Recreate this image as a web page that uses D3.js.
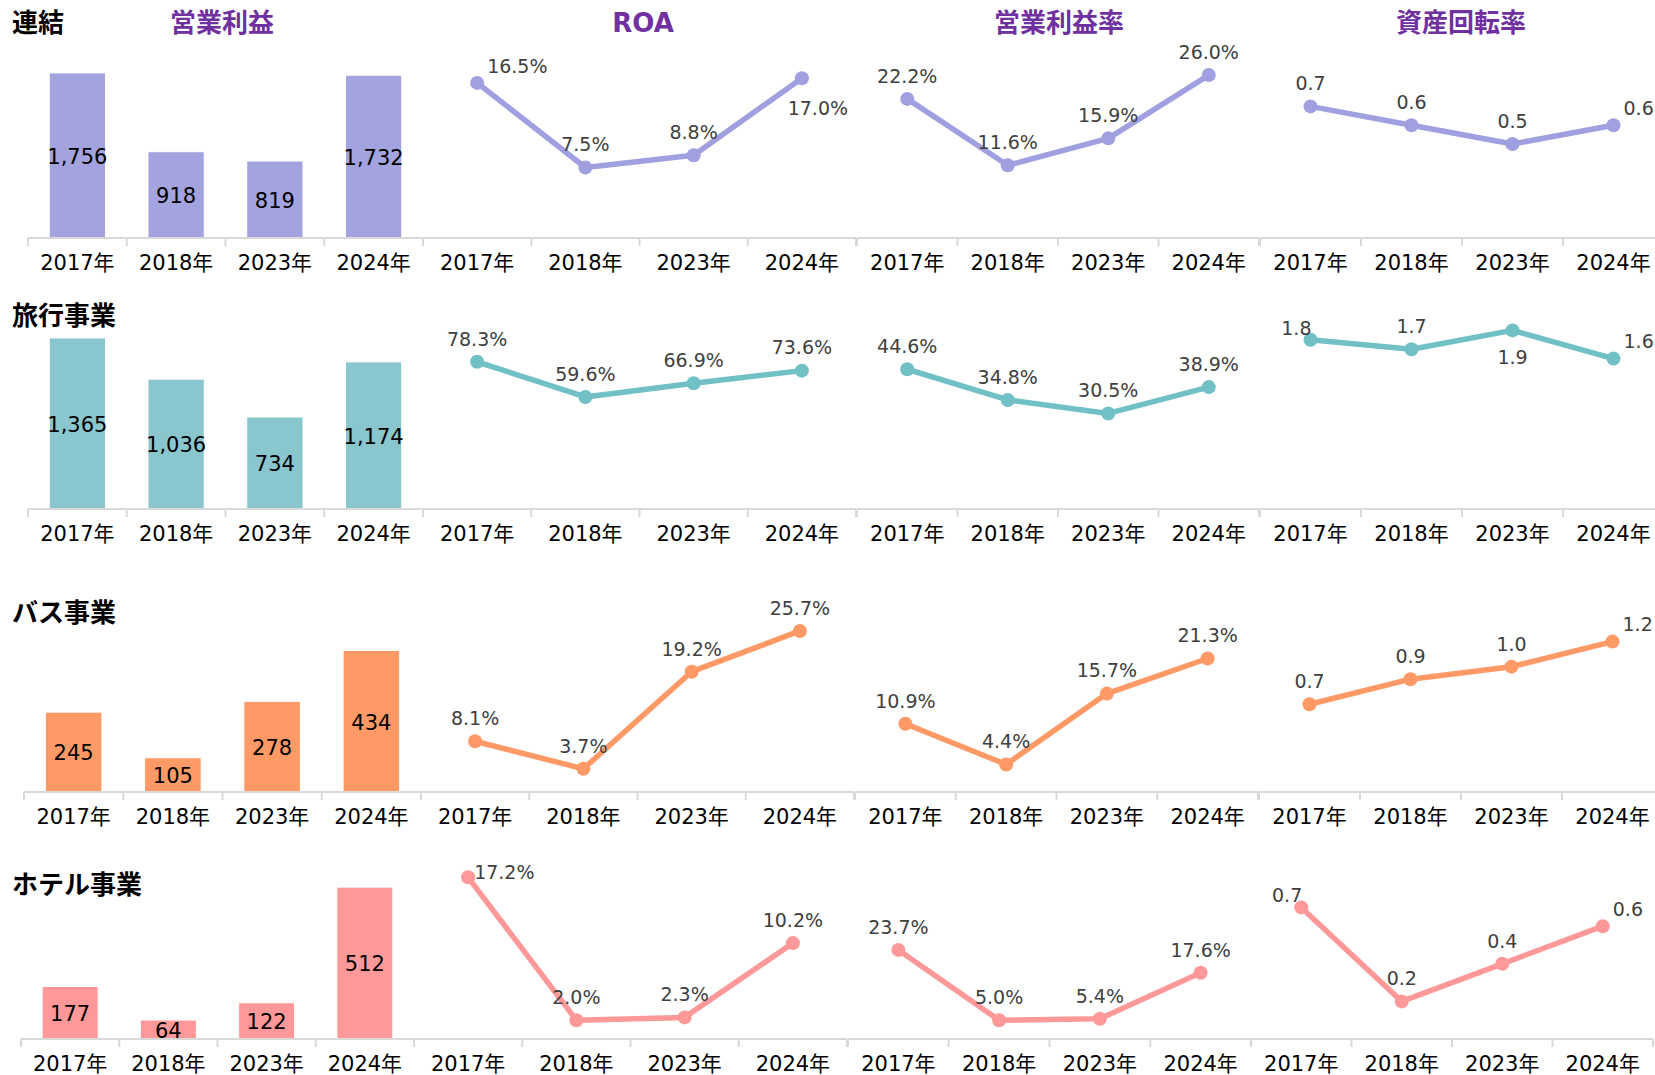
<!DOCTYPE html>
<html>
<head>
<meta charset="utf-8">
<script src="https://cdn.jsdelivr.net/npm/d3@7"></script>
<style>
  body { margin: 0; background: #fff; }
  svg { display: block; font-family: "DejaVu Sans", "Noto Sans CJK JP", sans-serif; }
</style>
</head>
<body>
<svg id="chart" width="1655" height="1075"></svg>
<script>
// categories
const years = ['2017年', '2018年', '2023年', '2024年'];
const segments = ['連結', '旅行事業', 'バス事業', 'ホテル事業'];
const metrics = ['営業利益', 'ROA', '営業利益率', '資産回転率'];

// values, one row per segment
const opProfit = [
  [1756, 918, 819, 1732],
  [1365, 1036, 734, 1174],
  [245, 105, 278, 434],
  [177, 64, 122, 512]
];
const roa = [
  [16.5, 7.5, 8.8, 17.0],
  [78.3, 59.6, 66.9, 73.6],
  [8.1, 3.7, 19.2, 25.7],
  [17.2, 2.0, 2.3, 10.2]
];
const opMargin = [
  [22.2, 11.6, 15.9, 26.0],
  [44.6, 34.8, 30.5, 38.9],
  [10.9, 4.4, 15.7, 21.3],
  [23.7, 5.0, 5.4, 17.6]
];
const assetTurnover = [
  [0.7, 0.6, 0.5, 0.6],
  [1.8, 1.7, 1.9, 1.6],
  [0.7, 0.9, 1.0, 1.2],
  [0.7, 0.2, 0.4, 0.6]
];

// axis maximums (per segment)
const barMax = [2000, 1500, 500, 600];
const roaMax = [20, 100, 30, 20];
const marginMax = [30, 60, 30, 50];
const turnoverMax = [1, 2, 1.5, 1];

// where each data label sits relative to its point
const roaLabelPos = [['tr', 't', 't', 'br'], ['t', 't', 't', 't'], ['t', 't', 't', 't'], ['r', 't', 't', 't']];
const marginLabelPos = [['t', 't', 't', 't'], ['t', 't', 't', 't'], ['t', 't', 't', 't'], ['t', 't', 't', 't']];
const turnoverLabelPos = [['t', 't', 't', 'tr'], ['tl', 't', 'b', 'tr'], ['t', 't', 't', 'tr'], ['tl', 't', 't', 'tr']];

// layout
const barColors = ['#A3A3DF', '#8AC6CE', '#FF9966', '#FF9999'];
const lineColors = ['#A0A0E0', '#70C0C6', '#FF9966', '#FF9999'];
const baselines = [238, 509, 792, 1039];
const titleY = [23, 316, 613, 885];
const barHeights = [188, 188, 163, 178];
const lineHeight = 188;
const colRanges = [
  [[28, 423], [423, 856], [857, 1259], [1260, 1664]],
  [[28, 423], [423, 856], [857, 1259], [1260, 1664]],
  [[24, 421], [421, 854], [855, 1258], [1259, 1663]],
  [[21, 414], [414, 847], [848, 1251], [1251, 1653]]
];
const metricTitleX = [222, 643, 1059, 1461];

const svg = d3.select('#chart');

// column titles
svg.append('g')
  .selectAll('text')
  .data(metrics)
  .join('text')
  .attr('x', (d, i) => metricTitleX[i])
  .attr('y', 23)
  .attr('dy', '0.36em')
  .attr('text-anchor', 'middle')
  .attr('font-size', 26)
  .attr('font-weight', 'bold')
  .attr('fill', '#7030A0')
  .text(d => d);

// row titles
svg.append('g')
  .selectAll('text')
  .data(segments)
  .join('text')
  .attr('x', 12)
  .attr('y', (d, i) => titleY[i])
  .attr('dy', '0.36em')
  .attr('font-size', 26)
  .attr('font-weight', 'bold')
  .attr('fill', '#000')
  .text(d => d);

function drawAxis(g, x, y0) {
  // category labels, no ticks at centres
  g.append('g')
    .attr('transform', `translate(0,${y0})`)
    .call(d3.axisBottom(x).tickSize(0).tickPadding(17))
    .call(a => a.select('.domain').remove())
    .selectAll('text')
    .attr('font-size', 21)
    .attr('font-family', '"DejaVu Sans", "Noto Sans CJK JP", sans-serif')
    .attr('fill', '#000');

  // axis line and ticks between categories (Excel style)
  const [r0, r1] = x.range();
  g.append('line')
    .attr('x1', r0).attr('x2', r1)
    .attr('y1', y0).attr('y2', y0)
    .attr('stroke', '#D9D9D9')
    .attr('stroke-width', 2);
  const bounds = x.domain().map(d => x(d)).concat([r1]);
  g.selectAll('.tick-line')
    .data(bounds)
    .join('line')
    .attr('x1', d => d).attr('x2', d => d)
    .attr('y1', y0).attr('y2', y0 + 8)
    .attr('stroke', '#D9D9D9')
    .attr('stroke-width', 2);
}

function drawBars(row) {
  const g = svg.append('g');
  const [r0, r1] = colRanges[row][0];
  const x = d3.scaleBand().domain(years).range([r0, r1]).padding(0);
  const y = d3.scaleLinear().domain([0, barMax[row]]).range([baselines[row], baselines[row] - barHeights[row]]);
  const bw = x.bandwidth() * 0.57;
  const data = opProfit[row].map((v, i) => ({ year: years[i], value: v }));

  g.selectAll('rect')
    .data(data)
    .join('rect')
    .attr('x', d => x(d.year) + (x.bandwidth() - bw) / 2)
    .attr('width', bw)
    .attr('y', d => y(d.value))
    .attr('height', d => y(0) - y(d.value))
    .attr('fill', barColors[row])
    .attr('stroke', '#fff')
    .attr('stroke-width', 1);

  g.selectAll('.bar-label')
    .data(data)
    .join('text')
    .attr('x', d => x(d.year) + x.bandwidth() / 2)
    .attr('y', d => (y(d.value) + y(0)) / 2)
    .attr('dy', '0.4em')
    .attr('text-anchor', 'middle')
    .attr('font-size', 21)
    .attr('fill', '#000')
    .text(d => d3.format(',')(d.value));

  drawAxis(g, x, baselines[row]);
}

const labelOffsets = {
  t: { dx: 0, dy: -23, anchor: 'middle' },
  b: { dx: 0, dy: 27, anchor: 'middle' },
  br: { dx: 16, dy: 30, anchor: 'middle' },
  r: { dx: 6, dy: -5, anchor: 'start' },
  tr: { dx: 10, dy: -17, anchor: 'start' },
  tl: { dx: 1, dy: -12, anchor: 'end' }
};

function drawLine(row, col, values, max, positions, fmt) {
  const g = svg.append('g');
  const [r0, r1] = colRanges[row][col];
  const x = d3.scaleBand().domain(years).range([r0, r1]).padding(0);
  const y = d3.scaleLinear().domain([0, max]).range([baselines[row], baselines[row] - lineHeight]);
  const data = values.map((v, i) => ({ year: years[i], value: v, pos: positions[i] }));
  const cx = d => x(d.year) + x.bandwidth() / 2;

  drawAxis(g, x, baselines[row]);

  const line = d3.line().x(cx).y(d => y(d.value));
  g.append('path')
    .datum(data)
    .attr('fill', 'none')
    .attr('stroke', lineColors[row])
    .attr('stroke-width', 5.5)
    .attr('stroke-linejoin', 'round')
    .attr('d', line);

  g.selectAll('circle')
    .data(data)
    .join('circle')
    .attr('cx', cx)
    .attr('cy', d => y(d.value))
    .attr('r', 7)
    .attr('fill', lineColors[row]);

  g.selectAll('.pt-label')
    .data(data)
    .join('text')
    .attr('x', d => cx(d) + labelOffsets[d.pos].dx)
    .attr('y', d => y(d.value) + labelOffsets[d.pos].dy)
    .attr('dy', '0.36em')
    .attr('text-anchor', d => labelOffsets[d.pos].anchor)
    .attr('font-size', 19)
    .attr('fill', '#404040')
    .text(d => fmt(d.value));
}

const pct = v => v.toFixed(1) + '%';
const dec = v => v.toFixed(1);

segments.forEach((s, row) => {
  drawBars(row);
  drawLine(row, 1, roa[row], roaMax[row], roaLabelPos[row], pct);
  drawLine(row, 2, opMargin[row], marginMax[row], marginLabelPos[row], pct);
  drawLine(row, 3, assetTurnover[row], turnoverMax[row], turnoverLabelPos[row], dec);
});
</script>
</body>
</html>
